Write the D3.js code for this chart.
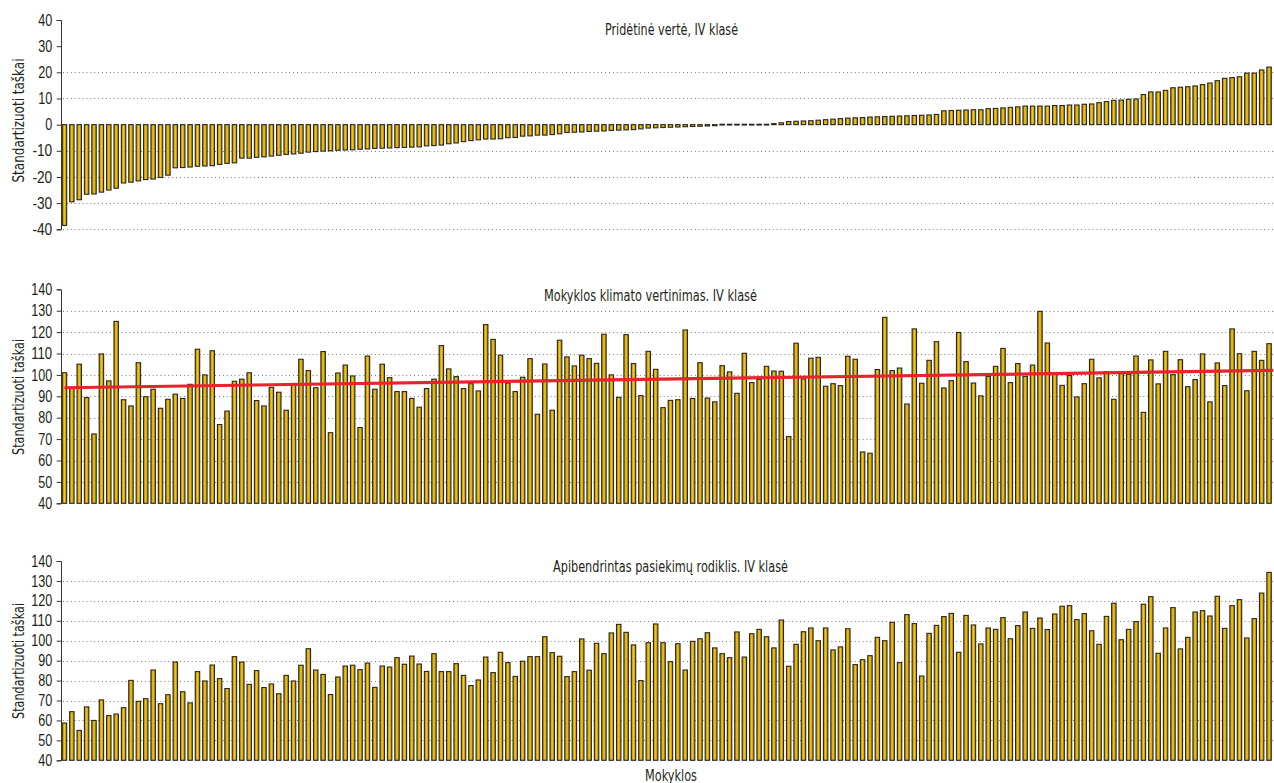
<!DOCTYPE html>
<html><head><meta charset="utf-8">
<script src="https://cdn.jsdelivr.net/npm/d3@7"></script>
<style>
html,body{margin:0;padding:0;background:#fff;}
svg{display:block;font-family:"DejaVu Sans Condensed","DejaVu Sans",sans-serif;}
</style></head><body>
<svg id="chart" width="1274" height="783"></svg>
<script>
// ---- DATA ----
const pridetineVerte = [
-38.5,-29.5,-28.7,-26.6,-26.5,-25.8,-25.0,-24.3,-22.3,-22.0,-21.5,-21.0,-20.8,-20.2,-19.3,-16.5,-16.4,-16.2,-15.9,-15.8,-15.7,-15.2,-14.8,-14.6,-12.8,-12.8,-12.5,-12.3,-12.0,-11.7,-11.4,-11.2,-10.9,-10.5,-10.3,-10.1,-10.0,
-9.8,-9.7,-9.6,-9.4,-9.3,-9.1,-9.0,-8.9,-8.8,-8.7,-8.6,-8.5,-8.1,-8.0,-7.8,-7.3,-7.0,-6.5,-6.1,-5.8,-5.5,-5.5,-5.4,-5.0,-4.9,-4.4,-4.3,-4.0,-4.0,-3.8,-3.5,-3.0,-2.9,-2.8,-2.6,-2.5,-2.4,-2.2,-2.1,-2.0,-1.9,-1.6,-1.3,
-1.2,-1.1,-1.0,-0.9,-0.8,-0.7,-0.6,-0.5,-0.4,-0.3,-0.2,-0.1,0.0,0.1,0.2,0.3,0.4,0.7,
1.2,1.3,1.4,1.5,1.7,1.9,2.1,2.3,2.5,2.6,2.7,2.9,3.0,3.1,3.2,3.3,3.4,3.5,3.6,3.7,3.9,5.3,5.4,5.5,5.6,
5.7,5.7,6.1,6.2,6.4,6.6,6.8,7.1,7.1,7.1,7.1,7.3,7.3,7.5,7.5,7.8,7.9,8.4,8.8,9.3,9.4,9.7,9.8,11.5,12.5,12.5,13.1,14.1,14.3,14.5,14.8,15.3,15.9,16.8,17.7,18.0,18.3,19.7,19.7,20.9,22.0
];
const klimatoVertinimas = [
101,94,105,89.4,72.4,109.8,97.2,125,88.4,85.5,105.7,89.8,93.3,84.4,88.6,91,89,95.6,112,100,111.3,76.8,83.1,97,98,101,88,85.5,94.2,91.9,83.5,96,107.3,102,94,110.9,73,
100.9,104.6,99.5,75.4,108.8,93.3,105,98.7,92.2,92.2,89,84.9,93.6,98,113.7,102.8,99.2,93.6,95.9,92.5,123.5,116.6,109.2,96.2,92.2,98.9,107.6,81.6,105.1,83.5,116.2,108.4,104.2,109.2,107.6,105.4,119,100,89.5,118.8,105.3,90.3,111,
102.6,84.7,88.1,88.4,121,89,105.7,89.2,87.4,104.3,101.4,91.4,110.1,96.4,97.9,104,101.8,101.7,71.2,114.8,98.1,107.8,108.2,94.7,95.9,95,108.7,107.3,64,63.4,102.5,126.9,102,103.2,86.4,121.5,96.1,106.8,115.5,93.9,97.3,119.8,106.2,
96.2,90.2,99.3,104,112.4,96.4,105.3,99.3,104.6,129.7,114.9,100.6,95.1,99.7,89.7,95.9,107.3,98.6,101.5,88.6,100.6,100.3,108.8,82.5,107,95.8,111,100.1,107.1,94.5,97.8,109.8,87.4,105.6,95,121.5,109.9,92.6,111,106.8,114.6
];
const pasiekimuRodiklis = [
58.7,64.4,55,66.8,60,70.3,62.4,63.2,66.4,80.1,69.6,70.9,85.3,68.4,72.9,89.3,74.4,68.8,84.5,79.8,87.8,81,76,92,89.3,78.1,85,76.5,78.3,73.4,82.6,79.8,87.7,96,85.3,83.1,73,
81.8,87.3,87.7,85.5,88.8,76.6,87.3,86.8,91.5,88.2,92.3,88.3,84.6,93.5,84.5,84.5,88.5,82.6,77.5,80.3,91.8,84,94.2,89,82.1,89.7,92,92,102,94,92.2,82,84.5,100.9,85.2,98.7,93.5,103.9,108.2,104.2,97.9,80,99,
108.4,99,89.5,98.5,85.3,99.7,101,104,96.4,93.5,91.5,104.4,91.8,103.5,105.7,102,96.4,110.4,87.2,98.2,104.5,106.4,100,106.4,95.4,96.9,106,88,90.5,92.5,101.7,100,109.2,89,113.1,108.6,82.3,103.7,107.7,112.1,113.7,94.2,112.7,
107.9,98.4,106.4,105.7,111.6,101,107.6,114.4,106.2,111.4,105.6,113.4,117.3,117.6,110.6,113.6,105,98.2,112.2,118.8,100.5,105.7,109.6,118.3,122.1,93.7,106.4,116.6,95.9,101.7,114.4,115.1,112.4,122.3,106.2,117.6,120.6,101.4,111.1,123.9,134.3
];
const klimatoTrend = [94.0, 102.1];          // trend value at first and last school
const ticksVerte = [-40,-30,-20,-10,0,10,20,30,40];
const gridVerte = [20,10,-10,-20,-30,-40];
const ticksTaskai = [40,50,60,70,80,90,100,110,120,130,140];
const gridTaskai = [50,60,70,80,90,100,110,120,130];
const titles = ["Pridėtinė vertė, IV klasė","Mokyklos klimato vertinimas. IV klasė","Apibendrintas pasiekimų rodiklis. IV klasė"];
const yLabel = "Standartizuoti taškai";
const xLabel = "Mokyklos";

// ---- CHART ----
const svg = d3.select("#chart");
const schools = pridetineVerte.map((d,i)=>i);
const TXT = "#231f20";

const defs = svg.append("defs");
const grad = defs.append("linearGradient").attr("id","barFill").attr("x1","0").attr("x2","1").attr("y1","0").attr("y2","0");
[[0,"#a4861c"],[0.3,"#d2a812"],[0.5,"#ffcb00"],[0.7,"#d2a812"],[1,"#a4861c"]].forEach(s=>
  grad.append("stop").attr("offset",s[0]).attr("stop-color",s[1]));

const x = d3.scaleBand().domain(schools).range([61.5,1272]).paddingInner(0.4).paddingOuter(0.1);

const panels = [
  {data:pridetineVerte, domain:[-40,40], range:[229.3,20], base:0, ticks:ticksVerte, grid:gridVerte,
   title:titles[0], tx:671.5, ty:34.5, tw:133, lcy:120.5, lw:124},
  {data:klimatoVertinimas, domain:[40,140], range:[503.3,289.3], base:40, ticks:ticksTaskai, grid:gridTaskai,
   title:titles[1], tx:650.5, ty:300.5, tw:213, lcy:397, lw:116, trend:klimatoTrend},
  {data:pasiekimuRodiklis, domain:[40,140], range:[760.3,561], base:40, ticks:ticksTaskai, grid:gridTaskai,
   title:titles[2], tx:670.5, ty:571.5, tw:235, lcy:661, lw:116}
];

panels.forEach(p=>{
  const y = d3.scaleLinear().domain(p.domain).range(p.range);
  const g = svg.append("g");

  // grid
  g.append("g").selectAll("line").data(p.grid).join("line")
    .attr("x1",63).attr("x2",1273)
    .attr("y1",d=>Math.round(y(d))+0.5).attr("y2",d=>Math.round(y(d))+0.5)
    .attr("stroke","#7a7a7a").attr("stroke-width",1).attr("stroke-dasharray","1,2.9");

  // title
  g.append("text").attr("x",p.tx).attr("y",p.ty).attr("text-anchor","middle")
    .attr("font-size",15).attr("fill",TXT)
    .attr("textLength",p.tw).attr("lengthAdjust","spacingAndGlyphs").text(p.title);

  // bars (a hairline minimum height keeps near-zero schools visible, as in the original)
  g.append("g").selectAll("rect").data(p.data).join("rect")
    .attr("x",(d,i)=>x(i))
    .attr("width",x.bandwidth())
    .attr("y",d=>{const h=Math.abs(y(d)-y(p.base)); return h<0.8 ? y(p.base)-0.4 : y(Math.max(d,p.base));})
    .attr("height",d=>Math.max(0.8,Math.abs(y(d)-y(p.base))))
    .attr("fill","url(#barFill)")
    .attr("stroke","#2a2620").attr("stroke-width",1.1);

  // trend line
  if(p.trend){
    const n = p.data.length-1;
    g.append("line")
      .attr("x1",x(0)+x.bandwidth()/2).attr("x2",x(n)+x.bandwidth()+2)
      .attr("y1",y(p.trend[0])).attr("y2",y(p.trend[1]))
      .attr("stroke","#e8232b").attr("stroke-width",3.2);
  }

  // axis
  const ax = g.append("g").attr("transform","translate(61,0)")
    .call(d3.axisLeft(y).tickValues(p.ticks).tickFormat(d=>String(d)).tickSize(4.3).tickPadding(4.5));
  ax.selectAll("path,line").attr("stroke","#333");
  ax.selectAll("text").attr("font-size",16).attr("fill",TXT)
    .attr("textLength",d=>{const s=String(d); return s.replace("-","").length*7 + (s[0]==="-"?5.8:0);})
    .attr("lengthAdjust","spacingAndGlyphs");

  // y label
  g.append("text").attr("transform",`translate(23.5,${p.lcy}) rotate(-90)`)
    .attr("text-anchor","middle").attr("font-size",16).attr("fill",TXT)
    .attr("textLength",p.lw).attr("lengthAdjust","spacingAndGlyphs").text(yLabel);
});

svg.append("text").attr("x",671).attr("y",780.5).attr("text-anchor","middle")
  .attr("font-size",15).attr("fill",TXT)
  .attr("textLength",52).attr("lengthAdjust","spacingAndGlyphs").text(xLabel);
</script>
</body></html>
